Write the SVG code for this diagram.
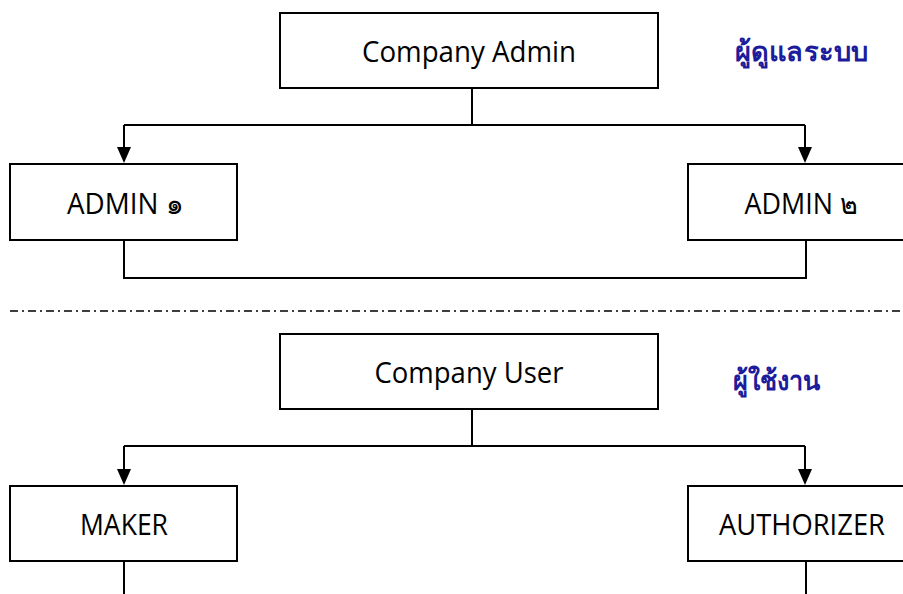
<svg xmlns="http://www.w3.org/2000/svg" width="903" height="594" viewBox="0 0 903 594">
<style>
.box{fill:#fff;stroke:#000;stroke-width:2}
.lbl{font-family:"Open Sans","Noto Sans","DejaVu Sans",sans-serif;font-size:29px;fill:#000;text-anchor:middle}
.th{font-family:"Noto Sans","DejaVu Sans",sans-serif;font-size:27px;font-weight:bold;fill:#1c1c9c}
.ln{fill:none;stroke:#000;stroke-width:2}
.arr{fill:#000}
</style>
<g id="connectors">
<path class="ln" d="M472,88 V125 M124,125 H805"/>
<path class="ln" d="M124,125 V150 M805,125 V150"/>
<polygon class="arr" points="117,147 131,147 124,163"/>
<polygon class="arr" points="798,147 812,147 805,163"/>
<path class="ln" d="M124,240 V278 H806 V240"/>
<path class="ln" d="M472,409 V446 M124,446 H805 M124,446 V472 M805,446 V472"/>
<polygon class="arr" points="117,469 131,469 124,485"/>
<polygon class="arr" points="798,469 812,469 805,485"/>
<path class="ln" d="M124,561 V594 M806,561 V594"/>
<line x1="10" y1="311" x2="903" y2="311" stroke="#000" stroke-width="1.5" stroke-dasharray="8,4,2,4"/>
</g>
<g id="company-admin"><rect class="box" x="280" y="13" width="378" height="75"/><text class="lbl" x="469" y="62" textLength="214" lengthAdjust="spacingAndGlyphs">Company Admin</text></g>
<g id="admin1"><rect class="box" x="10" y="164" width="227" height="76"/><text class="lbl" x="125" y="214" textLength="116" lengthAdjust="spacingAndGlyphs">ADMIN ๑</text></g>
<g id="admin2"><rect class="box" x="688" y="164" width="220" height="76"/><text class="lbl" x="801" y="214" textLength="113" lengthAdjust="spacingAndGlyphs">ADMIN ๒</text></g>
<g id="label-admin"><text class="th" x="735" y="61" textLength="133" lengthAdjust="spacingAndGlyphs">ผู้ดูแลระบบ</text></g>
<g id="company-user"><rect class="box" x="280" y="334" width="378" height="75"/><text class="lbl" x="469" y="383" textLength="189" lengthAdjust="spacingAndGlyphs">Company User</text></g>
<g id="label-user"><text class="th" x="733" y="390" textLength="87" lengthAdjust="spacingAndGlyphs">ผู้ใช้งาน</text></g>
<g id="maker"><rect class="box" x="10" y="486" width="227" height="75"/><text class="lbl" x="124" y="535" textLength="88" lengthAdjust="spacingAndGlyphs">MAKER</text></g>
<g id="authorizer"><rect class="box" x="688" y="486" width="220" height="75"/><text class="lbl" x="802" y="535" textLength="166" lengthAdjust="spacingAndGlyphs">AUTHORIZER</text></g>
</svg>
